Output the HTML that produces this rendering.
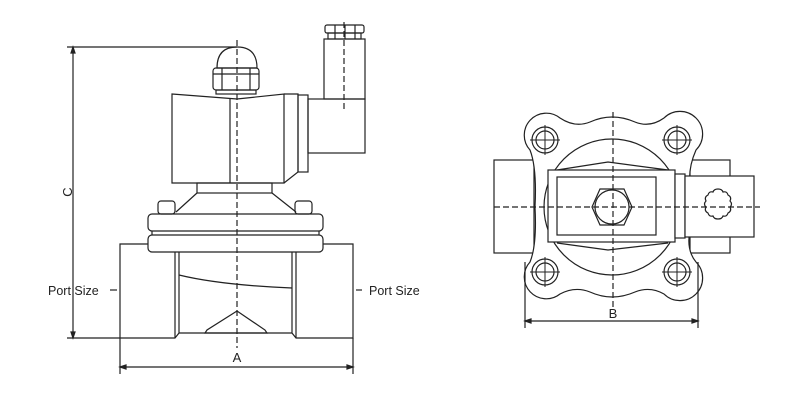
<!DOCTYPE html>
<html><head><style>
html,body{margin:0;padding:0;background:#fff;}
svg{display:block;}
text{font-family:"Liberation Sans",sans-serif;fill:#222;}
</style></head><body>
<svg width="800" height="404" viewBox="0 0 800 404" xmlns="http://www.w3.org/2000/svg">
<g fill="none" stroke="#222" stroke-width="1.2">
<line x1="67" y1="47" x2="237" y2="47"/>
<line x1="73" y1="47" x2="73" y2="338"/>
<line x1="67" y1="338" x2="120" y2="338"/>
<path d="M73 47 l-2 6 h4z M73 338 l-2 -6 h4z" fill="#222"/>
<path d="M217 68 Q217 47 237 47 Q257 47 257 68 Z"/>
<rect x="213" y="68" width="46" height="22" rx="3"/>
<line x1="222" y1="68" x2="222" y2="90"/><line x1="250" y1="68" x2="250" y2="90"/>
<line x1="213" y1="74" x2="259" y2="74"/>
<rect x="216" y="90" width="40" height="4"/>
<path d="M172 94 L237 99 L284 94 L284 183 L172 183 Z"/>
<line x1="230" y1="98" x2="230" y2="183"/>
<path d="M284 94 L298 94 L298 172 L284 183"/>
<rect x="298" y="95" width="10" height="77"/>
<rect x="308" y="99" width="57" height="54"/>
<rect x="324" y="39" width="41" height="60"/>
<rect x="325" y="25" width="39" height="8" rx="2"/>
<rect x="328" y="33" width="33" height="6"/>
<line x1="335" y1="25" x2="335" y2="39"/><line x1="345" y1="25" x2="345" y2="39"/><line x1="355" y1="25" x2="355" y2="39"/>
<rect x="197" y="183" width="75" height="10"/>
<path d="M197 193 L176 212 M272 193 L296 212"/>
<rect x="158" y="201" width="17" height="13" rx="3"/>
<rect x="295" y="201" width="17" height="13" rx="3"/>
<rect x="148" y="214" width="175" height="17" rx="4"/>
<line x1="152" y1="231" x2="152" y2="235"/><line x1="319" y1="231" x2="319" y2="235"/>
<rect x="148" y="235" width="175" height="17" rx="4"/>
<path d="M148 244 H120 V338 H175 L179 333 V252 M323 244 H353 V338 H296 L292 333 V252"/>
<path d="M175 252 V338 M296 252 V338 M179 333 H292"/>
<path d="M179 275 Q220 285 292 288"/>
<path d="M237 311 L207 330 L205 333 H267 L265 330 L237 311"/>
<line x1="120" y1="338" x2="120" y2="374"/>
<line x1="353" y1="338" x2="353" y2="374"/>
<line x1="120" y1="367" x2="353" y2="367"/>
<path d="M120 367 l6 -2 v4z M353 367 l-6 -2 v4z" fill="#222"/>
<line x1="110" y1="290" x2="117" y2="290"/><line x1="356" y1="290" x2="362" y2="290"/>
<line x1="237" y1="40" x2="237" y2="348" stroke-dasharray="6 3"/>
<line x1="344" y1="22" x2="344" y2="110" stroke-dasharray="6 3"/>

<rect x="494" y="160" width="40" height="93"/>
<rect x="690" y="160" width="40" height="93"/>
<path fill="#fff" d="M530 150 A22 22 0 0 1 560 118 Q575 128 590 122 Q612 112 635 122 Q650 128 664 118 A22 22 0 0 1 696 150 Q688 168 690 185 Q690 230 690 230 Q686 250 696 262 A22 22 0 0 1 664 294 Q650 286 635 292 Q612 302 590 292 Q575 286 560 294 A22 22 0 0 1 530 262 Q537 245 535 207 Q537 168 530 150 Z"/>
<circle cx="545" cy="140" r="13"/><circle cx="545" cy="140" r="9"/>
<circle cx="677" cy="140" r="13"/><circle cx="677" cy="140" r="9"/>
<circle cx="545" cy="272" r="13"/><circle cx="545" cy="272" r="9"/>
<circle cx="677" cy="272" r="13"/><circle cx="677" cy="272" r="9"/>
<path d="M530 140h30M545 125v30M662 140h30M677 125v30M530 272h30M545 257v30M662 272h30M677 257v30" stroke-width="1"/>
<circle cx="612" cy="207" r="68"/>
<path d="M557 170 L608 162 L668 170 M557 243 L608 250 L668 243"/>
<rect x="548" y="170" width="127" height="72" fill="#fff"/>
<rect x="557" y="177" width="99" height="58"/>
<polygon points="600,189 624,189 632,207 624,225 600,225 592,207"/>
<circle cx="612" cy="207" r="17"/>
<rect x="675" y="174" width="10" height="64" fill="#fff"/>
<rect x="685" y="176" width="69" height="61" fill="#fff"/>
<path d="M718 189 q4 0 5 3 q4 -1 5 3 q4 2 2 6 q3 3 0 6 q2 4 -2 6 q-1 4 -5 3 q-1 3 -5 3 q-4 0 -5 -3 q-4 1 -5 -3 q-4 -2 -2 -6 q-3 -3 0 -6 q-2 -4 2 -6 q1 -4 5 -3 q1 -3 5 -3z"/>
<line x1="494" y1="207" x2="760" y2="207" stroke-dasharray="6 3"/>
<line x1="613" y1="112" x2="613" y2="310" stroke-dasharray="6 3"/>
<line x1="525" y1="262" x2="525" y2="328"/>
<line x1="698" y1="262" x2="698" y2="328"/>
<line x1="525" y1="321" x2="698" y2="321"/>
<path d="M525 321 l6 -2 v4z M698 321 l-6 -2 v4z" fill="#222"/>
</g>
<text x="68" y="192" font-size="13" text-anchor="middle" transform="rotate(-90 68 192)" dy="4">C</text>
<text x="48" y="295" font-size="12.5">Port Size</text>
<text x="369" y="295" font-size="12.5">Port Size</text>
<text x="237" y="362" font-size="13" text-anchor="middle">A</text>
<text x="613" y="318" font-size="13" text-anchor="middle">B</text>
</svg>
</body></html>
